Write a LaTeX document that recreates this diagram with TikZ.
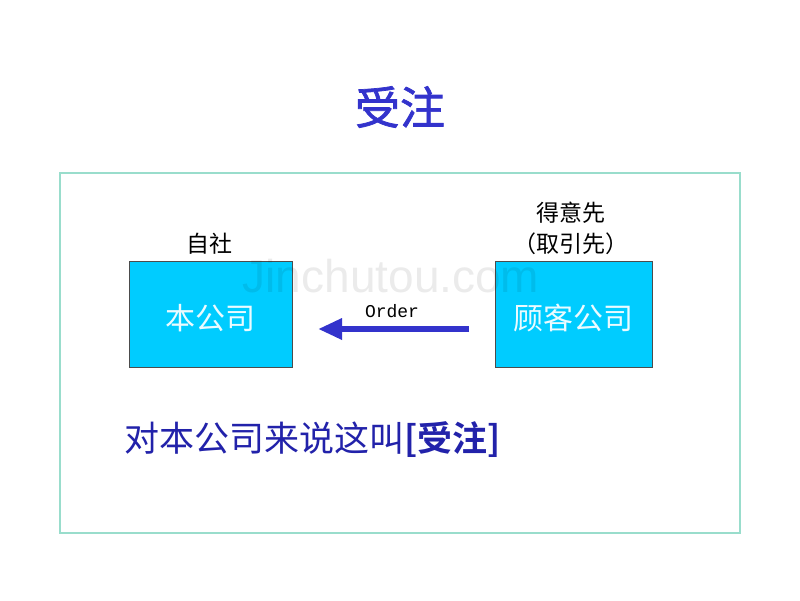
\documentclass[tikz,border=0pt]{standalone}
\usepackage{fontspec}
\newfontfamily\cjk{Noto Sans CJK SC}
\newfontfamily\cjkb{Noto Sans CJK SC Bold}
\newfontfamily\cjkm[FakeBold=1.6]{Noto Sans CJK SC}
\newfontfamily\monof{Liberation Mono}
\newfontfamily\wmf{Liberation Sans}
\usetikzlibrary{arrows.meta}
\definecolor{titleblue}{HTML}{3333CC}
\definecolor{textblue}{HTML}{2222AA}
\definecolor{framec}{HTML}{99DDCC}
\definecolor{boxfill}{HTML}{00CCFF}
\begin{document}
\begin{tikzpicture}[x=1pt,y=-1pt,
  company/.style={draw=black!70,line width=0.8pt,fill=boxfill,minimum width=163pt,minimum height=106pt,inner sep=0pt},
  boxtext/.style={font=\cjk\fontsize{30}{32}\selectfont,text=white!92!boxfill,inner sep=0pt},
  lbl/.style={font=\cjk\fontsize{23}{26}\selectfont,inner sep=0pt},
  flow/.style={line width=6pt,draw=titleblue,-{Triangle[length=24pt,width=20pt]}}]
\useasboundingbox (0,0) rectangle (800,600);
\fill[white] (0,0) rectangle (800,600);
\node (title) at (400,107) [font=\cjkm\fontsize{45}{48}\selectfont,text=titleblue] {受注};
\node (frame) [draw=framec,line width=1.5pt,minimum width=680pt,minimum height=360pt,inner sep=0pt] at (400,353) {};
\node (self) [company] at (210.5,314) {};
\node (cust) [company,minimum width=157pt] at (573.5,314) {};
\node (selftxt) [boxtext] at (210.5,318) {本公司};
\node (custtxt) [boxtext] at (573.5,318) {顾客公司};
\node (selflbl) [lbl] at (209,244) {自社};
\node (custlbl1) [lbl] at (571,213) {得意先};
\node (custlbl2) [lbl] at (571,244) {（取引先）};
\coordinate (astart) at (469,329);
\coordinate (aend) at (318,329);
\draw[flow] (astart) -- (aend);
\node (order) [font=\monof\fontsize{18}{20}\selectfont,inner sep=0pt] at (392,311) {Order};
\node (wm) [font=\wmf\fontsize{46}{50}\selectfont,text=black,opacity=0.08,inner sep=0pt] at (391,276) {Jinchutou.com};
\node (note) [anchor=west,inner sep=0pt,text=textblue,font=\cjk\fontsize{35}{38}\selectfont] at (124,440) {对本公司来说这叫{\cjkb[受注]}};
\end{tikzpicture}
\end{document}
